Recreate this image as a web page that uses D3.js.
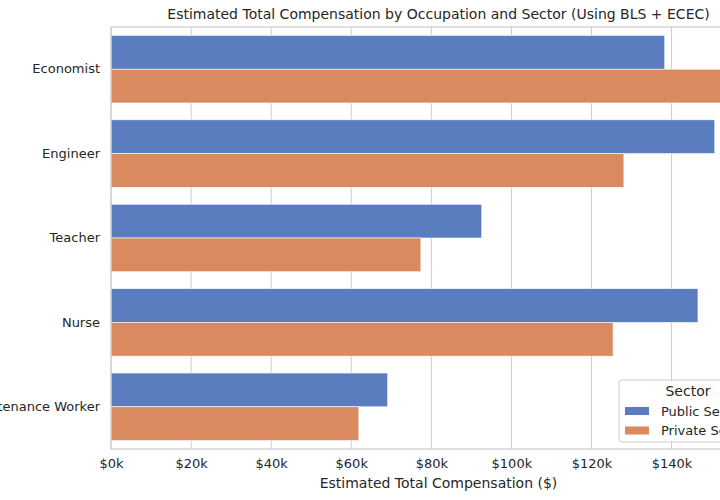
<!DOCTYPE html>
<html lang="en">
<head>
  <meta charset="utf-8" />
  <title>Estimated Total Compensation</title>
  <script src="https://cdn.jsdelivr.net/npm/d3@7"></script>
  <style>
    body { margin: 0; background: white; }
    svg { display: block; font-family: "DejaVu Sans", sans-serif; }
  </style>
</head>
<body>
<script>

var occupations = ["Economist", "Engineer", "Teacher", "Nurse", "Maintenance Worker"];
var sectors = ["Public Sector", "Private Sector"];
var publicComp = [138.3, 150.8, 92.6, 146.6, 69.1];
var privateComp = [155.8, 128.1, 77.4, 125.4, 61.9];
var xTicks = [0, 20, 40, 60, 80, 100, 120, 140, 160];
var colors = ["#597dbf", "#d98b5f"];

var w = 720, h = 500;
var pad = {left: 111, right: -46, top: 27, bottom: 51};

var rows = [];
occupations.forEach(function(o, i) {
  rows.push({occ: o, sector: sectors[0], v: publicComp[i]});
  rows.push({occ: o, sector: sectors[1], v: privateComp[i]});
});

var xMax = d3.max(rows, function(d) { return d.v; }) * 1.05;

var xScale = d3.scaleLinear()
               .domain([0, xMax])
               .range([pad.left, w - pad.right]);
var yScale = d3.scaleBand()
               .domain(occupations)
               .range([pad.top, h - pad.bottom]);
var bw = yScale.bandwidth();
var inner = d3.scaleBand()
              .domain(sectors)
              .range([0.1 * bw, 0.9 * bw]);
var color = d3.scaleOrdinal().domain(sectors).range(colors);

var svg = d3.select("body")
            .append("svg")
            .attr("width", w)
            .attr("height", h);

// grid
svg.append("g")
   .selectAll("line")
   .data(xTicks)
   .enter()
   .append("line")
   .attr("x1", function(d) { return xScale(d); })
   .attr("x2", function(d) { return xScale(d); })
   .attr("y1", pad.top)
   .attr("y2", h - pad.bottom)
   .attr("stroke", "#cccccc")
   .attr("stroke-width", 1);

// bars
svg.append("g")
   .selectAll("rect")
   .data(rows)
   .enter()
   .append("rect")
   .attr("x", xScale(0))
   .attr("y", function(d) { return yScale(d.occ) + inner(d.sector); })
   .attr("width", function(d) { return xScale(d.v) - xScale(0); })
   .attr("height", inner.bandwidth())
   .attr("fill", function(d) { return color(d.sector); })
   .attr("stroke", "white")
   .attr("stroke-width", 0.6);

// spines
svg.append("rect")
   .attr("x", pad.left)
   .attr("y", pad.top)
   .attr("width", xScale(xMax) - pad.left)
   .attr("height", h - pad.bottom - pad.top)
   .attr("fill", "none")
   .attr("stroke", "#cccccc")
   .attr("stroke-width", 1.2);

// x axis
var xAxis = d3.axisBottom(xScale)
              .tickValues(xTicks)
              .tickSize(0)
              .tickPadding(10)
              .tickFormat(function(d) { return "$" + d + "k"; });
var gx = svg.append("g")
   .attr("transform", "translate(0," + (h - pad.bottom) + ")")
   .call(xAxis);
gx.select(".domain").remove();
gx.selectAll("text").attr("font-size", 13).attr("fill", "#262626")
  .attr("font-family", "DejaVu Sans");

// y axis
var yAxis = d3.axisLeft(yScale).tickSize(0).tickPadding(11);
var gy = svg.append("g")
   .attr("transform", "translate(" + pad.left + ",0)")
   .call(yAxis);
gy.select(".domain").remove();
gy.selectAll("text").attr("font-size", 13).attr("fill", "#262626")
  .attr("font-family", "DejaVu Sans");

var cx = (pad.left + xScale(xMax)) / 2;

svg.append("text")
   .attr("x", cx)
   .attr("y", 19)
   .attr("text-anchor", "middle")
   .attr("font-size", 14)
   .attr("fill", "#262626")
   .text("Estimated Total Compensation by Occupation and Sector (Using BLS + ECEC)");

svg.append("text")
   .attr("x", cx)
   .attr("y", 488)
   .attr("text-anchor", "middle")
   .attr("font-size", 14)
   .attr("fill", "#262626")
   .text("Estimated Total Compensation ($)");

// legend
var lg = svg.append("g").attr("transform", "translate(619,380)");
lg.append("rect")
  .attr("width", 138)
  .attr("height", 62)
  .attr("rx", 3)
  .attr("fill", "white")
  .attr("fill-opacity", 0.8)
  .attr("stroke", "#cccccc");
lg.append("text")
  .attr("x", 69)
  .attr("y", 16)
  .attr("text-anchor", "middle")
  .attr("font-size", 14)
  .attr("fill", "#262626")
  .text("Sector");
var items = lg.selectAll("g.item")
  .data(sectors)
  .enter()
  .append("g")
  .attr("class", "item")
  .attr("transform", function(d, i) { return "translate(6," + (27 + i * 19.5) + ")"; });
items.append("rect")
  .attr("width", 24)
  .attr("height", 8)
  .attr("fill", function(d) { return color(d); });
items.append("text")
  .attr("x", 36)
  .attr("y", 8.5)
  .attr("font-size", 13)
  .attr("fill", "#262626")
  .text(function(d) { return d; });

</script>
</body>
</html>
